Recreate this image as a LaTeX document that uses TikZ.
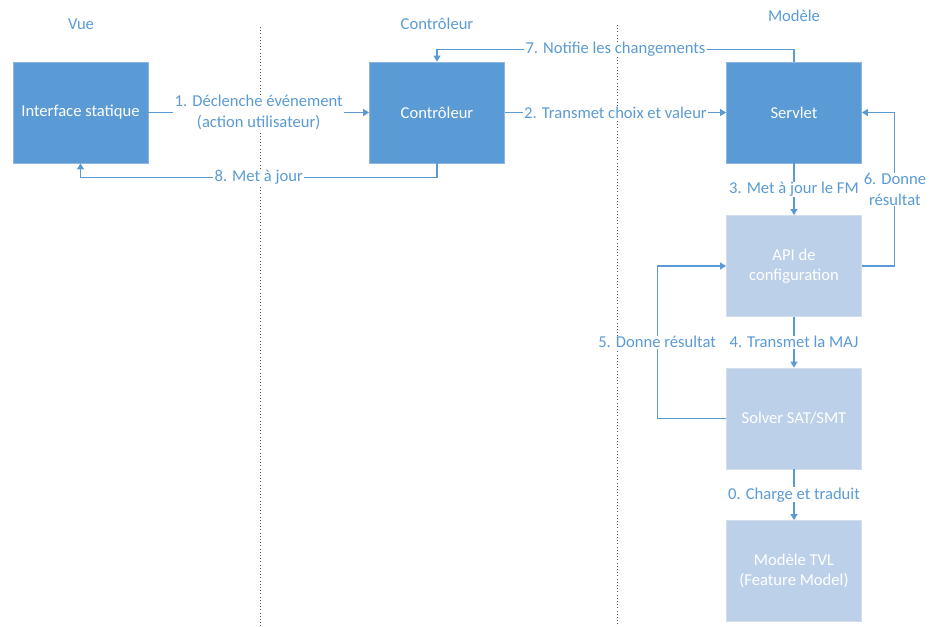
\documentclass[tikz,border=0pt]{standalone}
\usepackage{fontspec}
\setmainfont{Carlito}
\usetikzlibrary{arrows.meta}
\definecolor{officeblue}{HTML}{5B9BD5}
\definecolor{darkedge}{HTML}{8FB6E0}
\definecolor{lightfill}{HTML}{BDD0E9}
\definecolor{lightedge}{HTML}{D2DEEE}
\definecolor{sepgray}{HTML}{555555}
\tikzset{
  every node/.style={font=\fontsize{16.6}{20.5}\selectfont},
  darkbox/.style={draw=darkedge, line width=0.8pt, fill=officeblue, text=white,
    minimum width=135pt, minimum height=101pt, inner sep=0pt, align=center},
  lightbox/.style={draw=lightedge, line width=0.8pt, fill=lightfill, text=white,
    minimum width=135pt, minimum height=101pt, inner sep=0pt, align=center},
  flow/.style={draw=officeblue, line width=1.1pt, -{Triangle[width=7pt,length=6pt]}},
  lbl/.style={fill=white, text=officeblue, inner xsep=1.5pt, inner ysep=0.5pt, align=center},
  heading/.style={text=officeblue},
  lane/.style={draw=sepgray, line width=0.9pt, dash pattern=on 1pt off 2.2pt}
}
\begin{document}
\begin{tikzpicture}[x=1pt, y=-1pt]
\useasboundingbox (0,0) rectangle (930,627);

% lane separators
\coordinate (laneA top) at (260,27);
\coordinate (laneA bot) at (260,627);
\coordinate (laneB top) at (617,25);
\coordinate (laneB bot) at (617,627);
\draw[lane] (laneA top) -- (laneA bot);
\draw[lane] (laneB top) -- (laneB bot);

% lane headings
\node[heading] (hvue) at (81,24) {Vue};
\node[heading] (hctrl) at (437,24) {Contrôleur};
\node[heading] (hmodel) at (794,16) {Modèle};

% components
\node[darkbox] (iface) at (80.5,112.5) {Interface statique};
\node[darkbox] (ctrl) at (437,112.5) {Contrôleur};
\node[darkbox] (servlet) at (794,112.5) {Servlet};
\node[lightbox] (api) at (794,266) {API de\\configuration};
\node[lightbox] (solver) at (794,418.5) {Solver SAT/SMT};
\node[lightbox] (tvl) at (794,571) {Modèle TVL\\(Feature Model)};

% interactions
\draw[flow] (iface.east) -- node[lbl] {1. Déclenche événement\\(action utilisateur)} (ctrl.west);
\draw[flow] (ctrl.east) -- node[lbl] {2. Transmet choix et valeur} (servlet.west);
\draw[flow] (servlet.south) -- node[lbl] {3. Met à jour le FM} (api.north);
\draw[flow] (api.south) -- node[lbl] {4. Transmet la MAJ} (solver.north);
\draw[flow] (solver.south) -- node[lbl] {0. Charge et traduit} (tvl.north);

\draw[flow] (solver.west) -- ++(-69,0) coordinate (r5)
  -- node[lbl] {5. Donne résultat} (r5 |- api.west) -- (api.west);
\draw[flow] (api.east) -- ++(33,0) coordinate (r6)
  -- node[lbl] {6. Donne\\résultat} (r6 |- servlet.east) -- (servlet.east);
\draw[flow] (servlet.north) -- ++(0,-12) coordinate (r7)
  -- node[lbl] {7. Notifie les changements} (r7 -| ctrl.north) -- (ctrl.north);
\draw[flow] (ctrl.south) -- ++(0,14) coordinate (r8)
  -- node[lbl] {8. Met à jour} (r8 -| iface.south) -- (iface.south);
\end{tikzpicture}
\end{document}
